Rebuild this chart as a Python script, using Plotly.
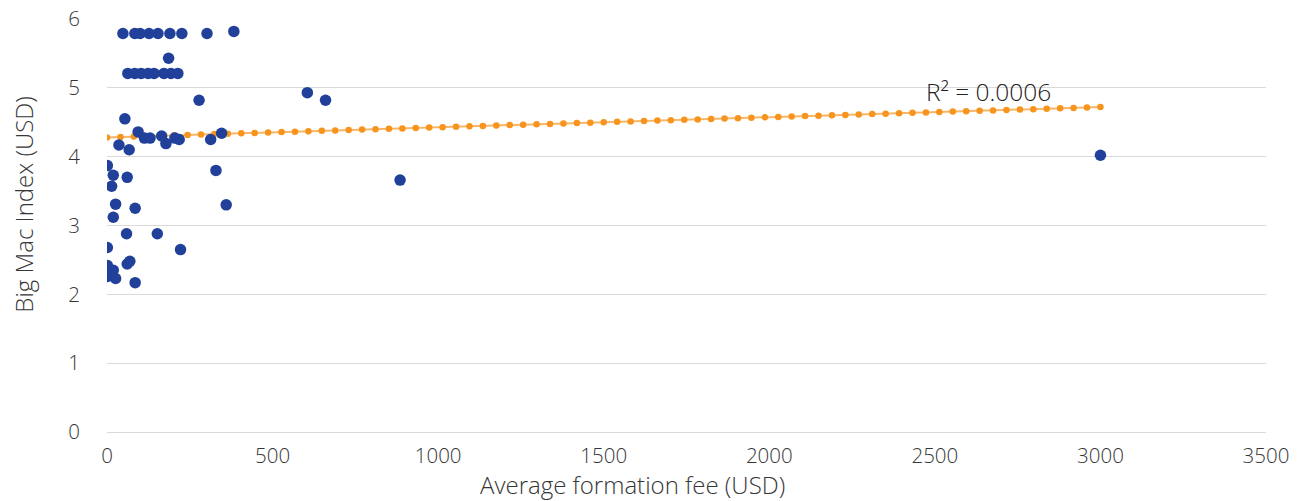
import numpy as np
import plotly.graph_objects as go

# Average formation fee (USD) and Big Mac Index (USD)
formation_fee = [
    48, 84, 100, 127, 154, 190, 226, 302, 383,          # ~5.8 row
    63, 84, 103, 124, 142, 172, 193, 214,               # ~5.2 row
    186,                                                # 5.43
    54, 94, 113, 130, 165, 178, 205, 218, 278, 313, 346, 36, 67,
    605, 660, 329, 360, 885, 3000,
    1, 19, 61, 14, 26, 85, 19,
    59, 152, 1, 222, 1, 19, 61, 69, 1, 26, 85,
]
big_mac_index = [
    5.79, 5.79, 5.79, 5.79, 5.79, 5.79, 5.79, 5.79, 5.82,
    5.21, 5.21, 5.21, 5.21, 5.21, 5.21, 5.21, 5.21,
    5.43,
    4.55, 4.36, 4.27, 4.27, 4.30, 4.19, 4.27, 4.25, 4.82, 4.25, 4.34, 4.17, 4.10,
    4.93, 4.82, 3.80, 3.30, 3.66, 4.02,
    3.87, 3.73, 3.70, 3.57, 3.31, 3.25, 3.12,
    2.88, 2.88, 2.68, 2.65, 2.42, 2.35, 2.44, 2.48, 2.26, 2.23, 2.17,
]

x_title = "Average formation fee (USD)"
y_title = "Big Mac Index (USD)"

# Linear trendline as drawn (endpoints)
trend_x_range = [0, 3000]
trend_y_range = [4.28, 4.72]
trend_label = "R² = 0.0006"

trend_x = np.linspace(trend_x_range[0], trend_x_range[1], 75)
slope = (trend_y_range[1] - trend_y_range[0]) / (trend_x_range[1] - trend_x_range[0])
trend_y = trend_y_range[0] + slope * (trend_x - trend_x_range[0])

FONT = "Open Sans"
TXT = "#363636"

fig = go.Figure()
fig.add_trace(go.Scatter(
    x=trend_x, y=trend_y, mode="lines+markers",
    line=dict(color="#F9B566", width=2),
    marker=dict(color="#F7941D", size=6.5),
    hoverinfo="skip", showlegend=False,
))
fig.add_trace(go.Scatter(
    x=formation_fee, y=big_mac_index, mode="markers",
    marker=dict(color="#21409A", size=11.5),
    showlegend=False,
))

fig.add_annotation(
    x=2468, y=4.95, xref="x", yref="y", text=trend_label, showarrow=False,
    xanchor="left", yanchor="middle",
    font=dict(family=FONT, size=24.5, color="#222222", weight=300),
)
fig.add_annotation(
    x=0.453, y=-0.126, xref="paper", yref="paper", text=x_title, showarrow=False,
    xanchor="center", yanchor="middle",
    font=dict(family=FONT, size=24, color=TXT, weight=300),
)
fig.add_annotation(
    x=-0.0728, y=0.5496, xref="paper", yref="paper", text=y_title, showarrow=False,
    xanchor="center", yanchor="middle", textangle=-90,
    font=dict(family=FONT, size=24, color=TXT, weight=300),
)

# page body has an 8px margin, so the figure is sized to fit the window
fig.update_layout(
    width=1297, height=493,
    margin=dict(l=99, r=39, t=11, b=69, autoexpand=False),
    paper_bgcolor="white", plot_bgcolor="white",
    font=dict(family=FONT, size=20.5, color=TXT, weight=300),
    xaxis=dict(
        range=[0, 3500], tickvals=[0, 500, 1000, 1500, 2000, 2500, 3000, 3500],
        showgrid=False, zeroline=False, showline=False, automargin=False,
        ticks="", ticklabelstandoff=9, ticklabeloverflow="allow",
    ),
    yaxis=dict(
        range=[0, 6.0], tickvals=[0, 1, 2, 3, 4, 5, 6], automargin=False,
        showgrid=True, gridcolor="#D9D9D9", gridwidth=1,
        zeroline=True, zerolinecolor="#D9D9D9", zerolinewidth=1,
        showline=False, ticks="", ticklabelstandoff=26, ticklabeloverflow="allow",
    ),
)

fig.write_html("out.html")
